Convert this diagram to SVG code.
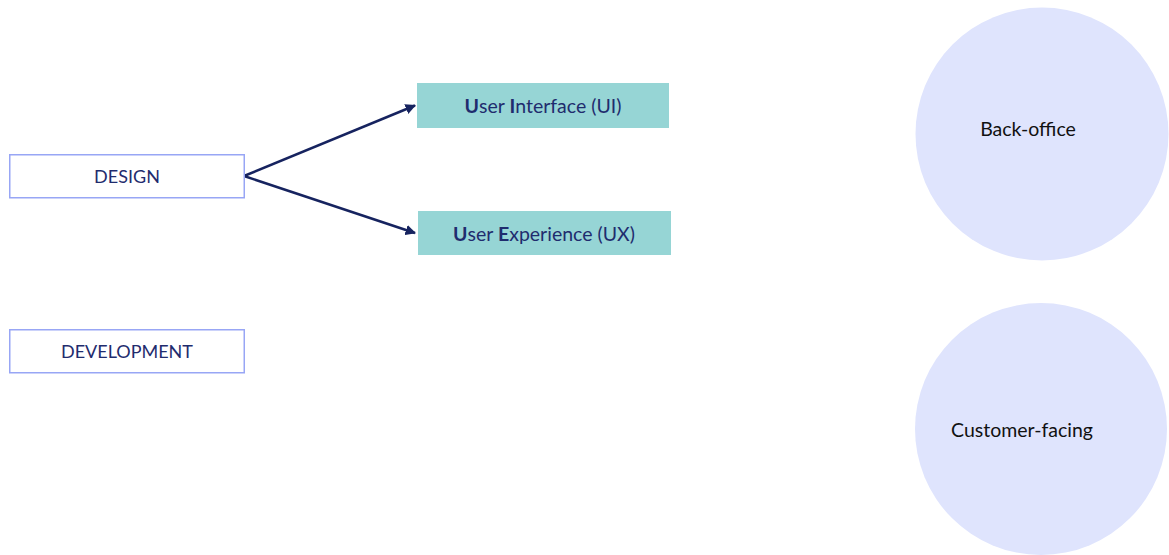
<svg xmlns="http://www.w3.org/2000/svg" width="1169" height="555" viewBox="0 0 1169 555">
<style>
.box{fill:#ffffff;stroke:#98a6f5;stroke-width:1.5}
.teal{fill:#96d5d5}
.circ{fill:#dfe4fd}
.t{font-family:Lato,"Open Sans","Liberation Sans",sans-serif;font-size:18px;fill:#1f2c6e;text-anchor:middle}
.t2{font-family:Lato,"Open Sans","Liberation Sans",sans-serif;font-size:19.5px;fill:#1f2c6e;text-anchor:middle}
.c{font-family:Lato,"Open Sans","Liberation Sans",sans-serif;font-size:19.5px;fill:#111111;text-anchor:middle}
.b{font-weight:bold}
.edge{fill:none;stroke:#16235f;stroke-width:2.5}
</style>
<defs>
<marker id="ah" viewBox="0 0 10 10" refX="9" refY="5" markerWidth="4.2" markerHeight="4.2" orient="auto" markerUnits="strokeWidth">
<path d="M0,0 L10,5 L0,10 z" fill="#16235f"/>
</marker>
</defs>
<rect width="1169" height="555" fill="#ffffff"/>
<g id="connectors">
<path class="edge" d="M244,176 L415,105.5" marker-end="url(#ah)"/>
<path class="edge" d="M244,176 L415,233" marker-end="url(#ah)"/>
</g>
<g id="design">
<rect class="box" x="9.75" y="154.75" width="234.5" height="43"/>
<text class="t" x="127" y="182.5">DESIGN</text>
</g>
<g id="development">
<rect class="box" x="9.75" y="329.75" width="234.5" height="43"/>
<text class="t" x="127" y="358">DEVELOPMENT</text>
</g>
<g id="ui">
<rect class="teal" x="417" y="83" width="252" height="45"/>
<text class="t2" x="543" y="112.5"><tspan class="b">U</tspan>ser <tspan class="b">I</tspan>nterface (UI)</text>
</g>
<g id="ux">
<rect class="teal" x="418" y="211" width="253" height="44"/>
<text class="t2" x="544" y="240.5"><tspan class="b">U</tspan>ser <tspan class="b">E</tspan>xperience (UX)</text>
</g>
<g id="backoffice">
<circle class="circ" cx="1042" cy="134" r="126.5"/>
<text class="c" x="1028" y="136">Back-office</text>
</g>
<g id="customer">
<circle class="circ" cx="1041" cy="429" r="126"/>
<text class="c" x="1022" y="437">Customer-facing</text>
</g>
</svg>
